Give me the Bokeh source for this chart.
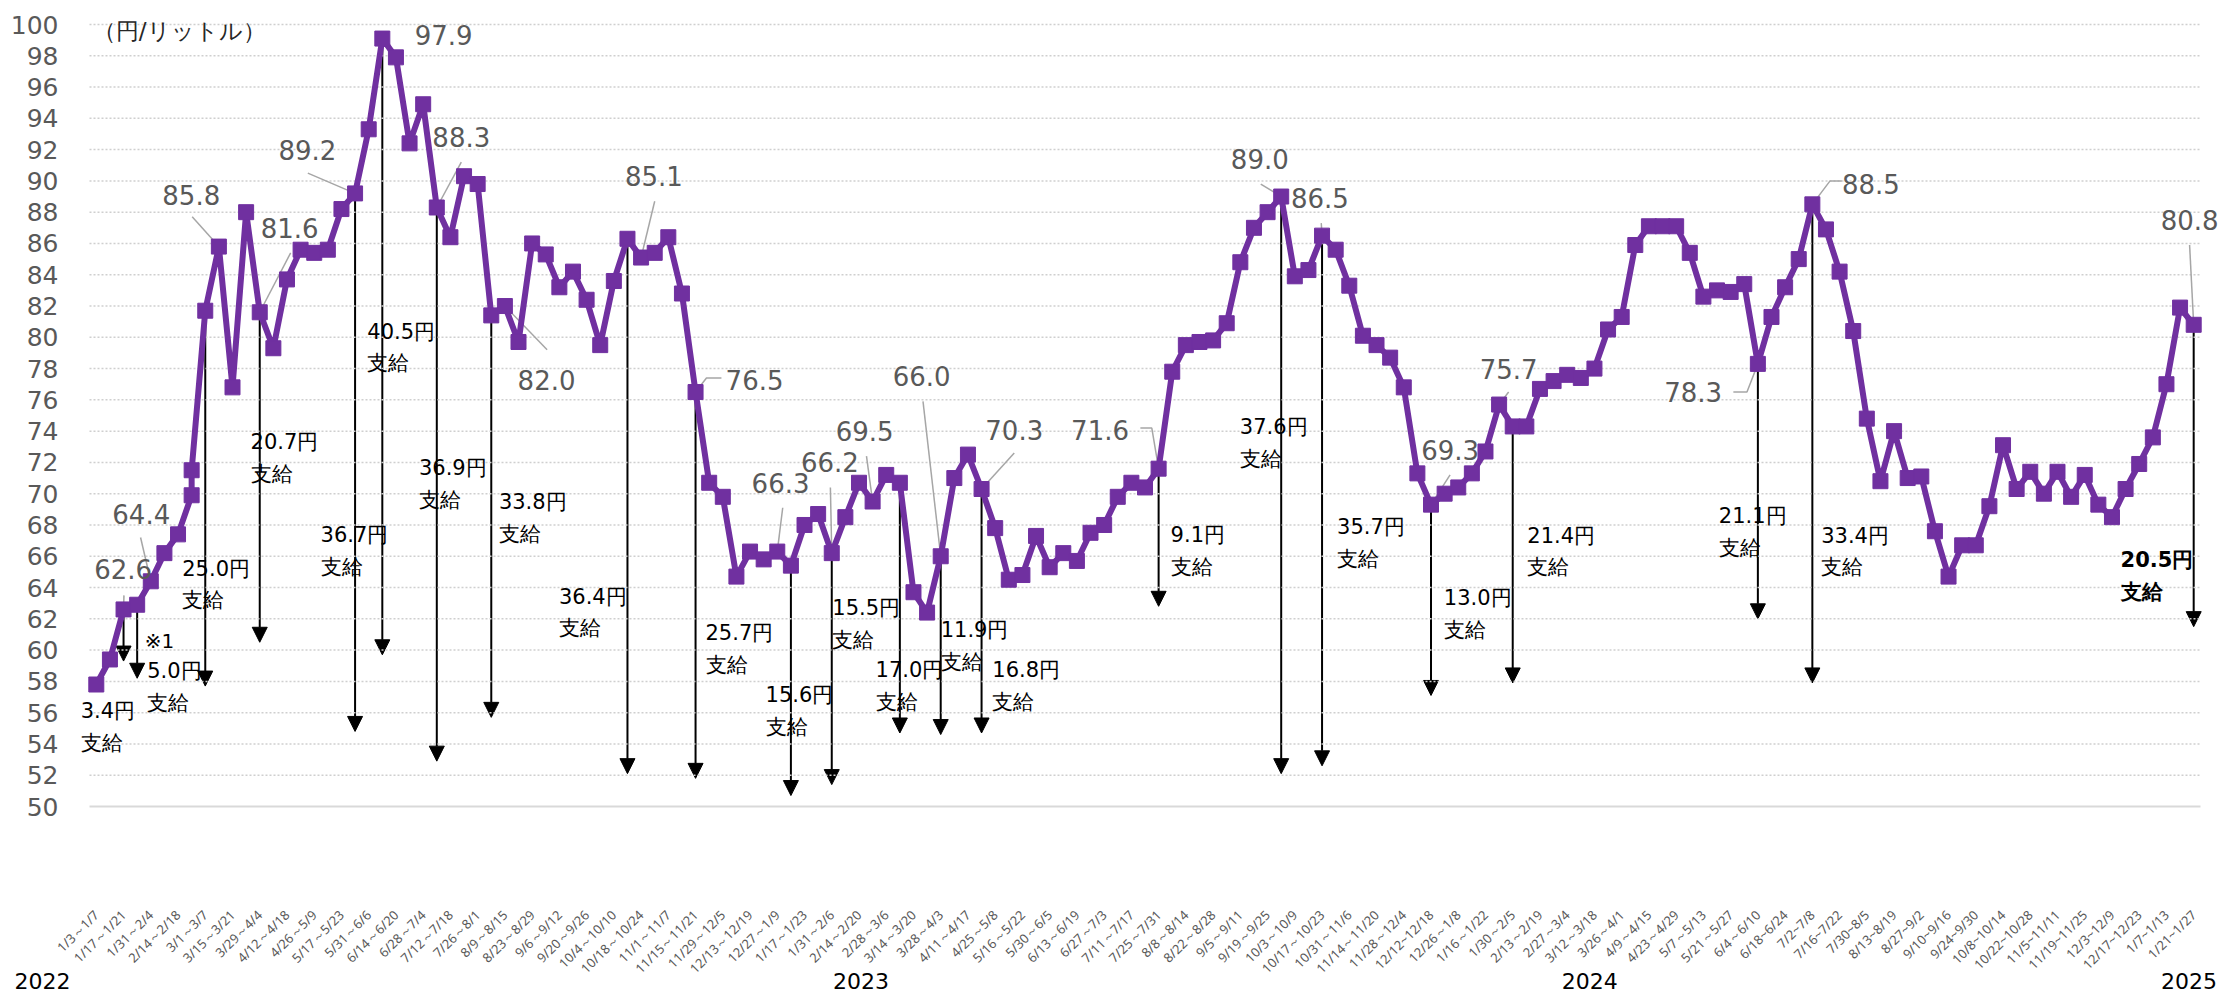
import math
from bokeh.plotting import figure
from bokeh.models import Range1d, FixedTicker, Arrow, NormalHead, Label
from bokeh.embed import file_html
from bokeh.resources import INLINE

# ---------------- data ----------------
tick_labels = [
    "1/3～1/7", "1/17～1/21", "1/31～2/4", "2/14～2/18", "3/1～3/7", "3/15～3/21", "3/29～4/4",
    "4/12～4/18", "4/26～5/9", "5/17～5/23", "5/31～6/6", "6/14～6/20", "6/28～7/4", "7/12～7/18",
    "7/26～8/1", "8/9～8/15", "8/23～8/29", "9/6～9/12", "9/20～9/26", "10/4～10/10", "10/18～10/24",
    "11/1～11/7", "11/15～11/21", "11/29～12/5", "12/13～12/19", "12/27～1/9",
    "1/17～1/23", "1/31～2/6", "2/14～2/20", "2/28～3/6", "3/14～3/20", "3/28～4/3", "4/11～4/17",
    "4/25～5/8", "5/16～5/22", "5/30～6/5", "6/13～6/19", "6/27～7/3", "7/11～7/17", "7/25～7/31",
    "8/8～8/14", "8/22～8/28", "9/5～9/11", "9/19～9/25", "10/3～10/9", "10/17～10/23", "10/31～11/6",
    "11/14～11/20", "11/28～12/4", "12/12~12/18", "12/26～1/8",
    "1/16～1/22", "1/30～2/5", "2/13～2/19", "2/27～3/4", "3/12～3/18", "3/26～4/1", "4/9～4/15",
    "4/23～4/29", "5/7～5/13", "5/21～5/27", "6/4～6/10", "6/18~6/24", "7/2~7/8", "7/16~7/22",
    "7/30~8/5", "8/13~8/19", "8/27~9/2", "9/10~9/16", "9/24~9/30", "10/8~10/14", "10/22~10/28",
    "11/5~11/11", "11/19~11/25", "12/3~12/9", "12/17~12/23",
    "1/7~1/13", "1/21~1/27",
]

# weekly values (one per category)
prices = [
    57.8, 59.4, 62.6, 62.9, 64.4, 66.2, 67.4, 71.5, 81.7, 85.8,
    76.8, 88.0, 81.6, 79.3, 83.7, 85.6, 85.4, 85.6, 88.2, 89.2,
    93.3, 99.1, 97.9, 92.4, 94.9, 88.3, 86.4, 90.3, 89.8, 81.4,
    82.0, 79.7, 86.0, 85.3, 83.2, 84.2, 82.4, 79.5, 83.6, 86.3,
    85.1, 85.4, 86.4, 82.8, 76.5, 70.7, 69.8, 64.7, 66.3, 65.8,
    66.3, 65.4, 68.0, 68.7, 66.2, 68.5, 70.7, 69.5, 71.2, 70.7,
    63.7, 62.4, 66.0, 71.0, 72.5, 70.3, 67.8, 64.5, 64.8, 67.3,
    65.3, 66.2, 65.7, 67.5, 68.0, 69.8, 70.7, 70.4, 71.6, 77.8,
    79.5, 79.7, 79.8, 80.9, 84.8, 87.0, 88.0, 89.0, 83.9, 84.3,
    86.5, 85.6, 83.3, 80.1, 79.5, 78.7, 76.8, 71.3, 69.3, 70.0,
    70.4, 71.3, 72.7, 75.7, 74.3, 74.3, 76.7, 77.2, 77.6, 77.4,
    78.0, 80.5, 81.3, 85.9, 87.1, 87.1, 87.1, 85.4, 82.6, 83.0,
    82.9, 83.4, 78.3, 81.3, 83.2, 85.0, 88.5, 86.9, 84.2, 80.4,
    74.8, 70.8, 74.0, 71.0, 71.1, 67.6, 64.7, 66.7, 66.7, 69.2,
    73.1, 70.3, 71.4, 70.0, 71.4, 69.8, 71.2, 69.3, 68.5, 70.3,
    71.9, 73.6, 77.0, 81.9, 80.8,
]
# an additional reading plotted in the same week as the one after it
extra_week = [7]
extra_price = [69.9]

# subsidy arrows (支給額)
sub_idx = [2, 3, 8, 12, 19, 21, 25, 29, 39, 44, 51, 54, 59, 62, 65, 78, 87, 90, 98, 104, 122, 126, 154]
sub_amount = ["3.4", "5.0", "25.0", "20.7", "36.7", "40.5", "36.9", "33.8", "36.4", "25.7", "15.6",
              "15.5", "17.0", "11.9", "16.8", "9.1", "37.6", "35.7", "13.0", "21.4", "21.1", "33.4", "20.5"]
sub_tip = [59.3, 58.2, 57.7, 60.5, 54.8, 59.7, 52.9, 55.7, 52.1, 51.8, 50.7, 51.4, 54.7, 54.6,
           54.7, 62.8, 52.1, 52.6, 57.1, 57.9, 62.0, 57.9, 61.5]
sub_label_x = [-1.15, 3.74, 6.31, 11.33, 16.47, 19.9, 23.69, 29.56, 33.97, 44.73, 49.14, 54.04,
               57.22, 62.0, 65.79, 78.88, 83.96, 91.1, 98.94, 105.07, 119.13, 126.65, 148.63]
sub_label_y = [55.1, 57.65, 64.2, 72.3, 66.35, 79.35, 70.6, 68.45, 62.4, 60.05, 56.1, 61.65, 57.7,
               60.25, 57.7, 66.35, 73.25, 66.85, 62.3, 66.3, 67.55, 66.3, 64.75]

# value call-outs
call_idx = [2, 4, 9, 12, 19, 22, 25, 30, 40, 44, 50, 54, 57, 62, 65, 78, 87, 90, 98, 103, 122, 126, 154]
call_label_x = [1.97, 3.3, 6.97, 14.2, 15.5, 25.5, 26.8, 33.06, 40.94, 48.33, 50.24, 53.86, 56.41,
                60.6, 67.4, 73.7, 85.43, 89.84, 99.4, 103.7, 117.25, 130.3, 153.7]
call_label_y = [65.2, 68.7, 89.1, 87.0, 92.0, 99.35, 92.8, 77.3, 90.3, 77.3, 70.7, 72.0, 74.0,
                77.5, 74.1, 74.1, 91.4, 88.9, 72.8, 78.0, 76.5, 89.8, 87.5]
lead_x = [2.03, 3.25, 7.04, 14.27, 15.53, None, 26.8, 33.1, 41.0, 45.9, 50.4, 53.9, 56.55, 60.7,
          67.4, 76.66, 85.5, 89.94, 99.4, 103.7, 120.2, 128.16, 153.7]
lead_y = [63.5, 67.2, 87.7, 85.4, 90.5, None, 91.2, 79.2, 88.7, 77.4, 69.1, 70.4, 72.4, 75.9,
          72.6, 74.2, 89.8, 87.3, 71.2, 76.5, 76.5, 90.0, 85.9]
elbow_x = [None] * 9 + [44.8] + [None] * 5 + [77.5] + [None] * 4 + [121.2, 127.3, None]
elbow_y = [None] * 9 + [77.4] + [None] * 5 + [74.2] + [None] * 4 + [76.5, 90.0, None]

years = ["2022", "2023", "2024", "2025"]
year_x = [-6.0, 54.1, 107.6, 151.6]

y_ticks = list(range(50, 101, 2))

# ---------------- layout geometry (pixels) ----------------
PURPLE = "#7030a0"
GRAY = "#595959"

W, H = 2220, 995
PLOT_LEFT, PLOT_RIGHT = 89.0, 2200.0      # plot-area edges in page pixels
Y100_PX, Y50_PX = 24.0, 806.0             # pixel rows of the 100 and 50 grid lines
n = len(prices)
px_x = (PLOT_RIGHT - PLOT_LEFT) / n
px_y = (Y50_PX - Y100_PX) / 50.0
X0 = -0.5 - PLOT_LEFT / px_x
X1 = X0 + W / px_x
Y1 = 100 + Y100_PX / px_y
Y0 = Y1 - H / px_y

# series path (extra reading placed before the regular one of its week)
line_x, line_y = [], []
for i, v in enumerate(prices):
    for w, ev in zip(extra_week, extra_price):
        if w == i:
            line_x.append(w)
            line_y.append(ev)
    line_x.append(i)
    line_y.append(v)

p = figure(width=W, height=H, x_range=Range1d(X0, X1), y_range=Range1d(Y0, Y1),
           output_backend="svg", toolbar_location=None,
           min_border_left=0, min_border_right=0, min_border_top=0, min_border_bottom=0)
p.outline_line_color = None
p.background_fill_color = "white"
p.border_fill_color = "white"
p.xgrid.visible = False
p.ygrid.visible = False

# horizontal dotted grid lines limited to the plot area
grid_y = [t for t in y_ticks if t > 50]
p.segment(x0=[-0.5] * len(grid_y), y0=grid_y, x1=[n - 0.5] * len(grid_y), y1=grid_y,
          line_color="#cfcfcf", line_dash="2 2", line_width=1.5)

# y axis drawn at the left edge of the plot area
p.yaxis.fixed_location = -0.5
p.yaxis.ticker = FixedTicker(ticks=y_ticks)
p.yaxis.axis_line_color = None
p.yaxis.major_tick_line_color = None
p.yaxis.minor_tick_line_color = None
p.yaxis.major_tick_out = 0
p.yaxis.major_tick_in = 0
p.yaxis.major_label_standoff = 31
p.yaxis.major_label_text_font = "DejaVu Sans"
p.yaxis.major_label_text_font_size = "25px"
p.yaxis.major_label_text_color = GRAY

# x axis drawn at y = 50
tick_pos = [2 * k for k in range(len(tick_labels))]
p.xaxis.fixed_location = 50
p.xaxis.bounds = (-0.5, n - 0.5)
p.xaxis.ticker = FixedTicker(ticks=tick_pos)
p.xaxis.major_label_overrides = {t: lab for t, lab in zip(tick_pos, tick_labels)}
p.xaxis.major_label_orientation = math.pi / 4
p.xaxis.major_label_standoff = 106
p.xaxis.major_label_text_font = "Noto Sans"
p.xaxis.major_label_text_font_size = "13px"
p.xaxis.major_label_text_color = GRAY
p.xaxis.major_tick_line_color = None
p.xaxis.minor_tick_line_color = None
p.xaxis.major_tick_out = 0
p.xaxis.major_tick_in = 0
p.xaxis.axis_line_color = "#d9d9d9"
p.xaxis.axis_line_width = 2

# subsidy arrows
for i, tip in zip(sub_idx, sub_tip):
    p.add_layout(Arrow(x_start=i, y_start=prices[i], x_end=i, y_end=tip,
                       line_color="black", line_width=2, level="underlay",
                       end=NormalHead(size=15, fill_color="black", line_color="black")))

# leader lines
lxs, lys = [], []
for k, i in enumerate(call_idx):
    if lead_x[k] is None:
        continue
    xs = [lead_x[k]]
    ys = [lead_y[k]]
    if elbow_x[k] is not None:
        xs.append(elbow_x[k])
        ys.append(elbow_y[k])
    xs.append(i)
    ys.append(prices[i])
    lxs.append(xs)
    lys.append(ys)
p.multi_line(lxs, lys, line_color="#a6a6a6", line_width=1.5)

# series
p.line(line_x, line_y, line_color=PURPLE, line_width=6)
p.scatter(line_x, line_y, marker="square", size=15, fill_color=PURPLE, line_color=PURPLE)

# value call-out labels
for k, i in enumerate(call_idx):
    p.add_layout(Label(x=call_label_x[k], y=call_label_y[k], text=f"{prices[i]:.1f}",
                       text_align="center", text_baseline="middle", text_font="DejaVu Sans",
                       text_font_size="26px", text_color=GRAY))

# subsidy labels
for k, amt in enumerate(sub_amount):
    last = k == len(sub_amount) - 1
    p.add_layout(Label(x=sub_label_x[k], y=sub_label_y[k], text=f"{amt}円\n支給",
                       text_align="left", text_baseline="middle", text_font="DejaVu Sans",
                       text_font_size="21px", text_color="black", text_line_height=1.32,
                       text_font_style="bold" if last else "normal"))

p.add_layout(Label(x=3.55, y=60.6, text="※1", text_align="left", text_baseline="middle",
                   text_font="DejaVu Sans", text_font_size="20px", text_color="black"))

# unit
p.add_layout(Label(x=-0.26, y=99.6, text="（円/リットル）", text_align="left", text_baseline="middle",
                   text_font="DejaVu Sans", text_font_size="23px", text_color="#262626"))

# years
for yr, yx in zip(years, year_x):
    p.add_layout(Label(x=yx, y=38.85, text=yr, text_align="left", text_baseline="middle",
                       text_font="DejaVu Sans", text_font_size="22px", text_color="black"))

open("out.html", "w").write(file_html(p, INLINE))
